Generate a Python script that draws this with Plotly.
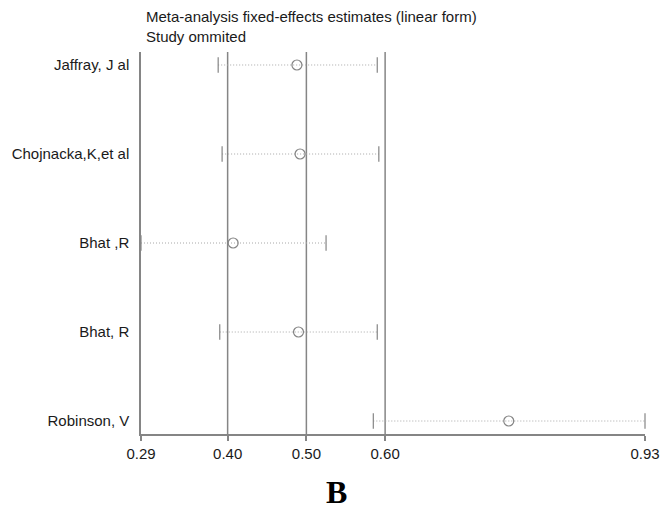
import plotly.graph_objects as go

studies = ["Jaffray, J al", "Chojnacka,K,et al", "Bhat ,R", "Bhat, R", "Robinson, V"]
estimate = [0.488, 0.492, 0.407, 0.490, 0.757]
lower = [0.388, 0.393, 0.290, 0.390, 0.585]
upper = [0.590, 0.592, 0.525, 0.590, 0.930]
x_ticks = [0.29, 0.40, 0.50, 0.60, 0.93]
x_tick_labels = ["0.29", "0.40", "0.50", "0.60", "0.93"]
ref_lines = [0.40, 0.50, 0.60]

ypos = list(range(len(studies)))
GRAY = "#858585"
FONT = "Liberation Sans, Arial, sans-serif"

W, H = 672, 517
ML, MR, MT, MB = 140, 21, 52, 83
pw, ph = W - ML - MR, H - MT - MB

fig = go.Figure()
for i in ypos:
    fig.add_trace(go.Scatter(
        x=[lower[i], upper[i]], y=[i, i], mode="lines",
        line=dict(color="#a8a8a8", width=1, dash="1px,2px"),
        hoverinfo="skip", showlegend=False))
fig.add_trace(go.Scatter(
    x=lower + upper, y=ypos + ypos, mode="markers",
    marker=dict(symbol="line-ns", size=11, line=dict(color=GRAY, width=1.2)),
    showlegend=False, cliponaxis=False))
fig.add_trace(go.Scatter(
    x=estimate, y=ypos, mode="markers",
    marker=dict(symbol="circle-open", size=10, color=GRAY, line=dict(width=1.2)),
    showlegend=False))

for v in ref_lines:
    fig.add_vline(x=v, line=dict(color=GRAY, width=1.5), layer="below")

fig.update_layout(
    width=W, height=H,
    margin=dict(l=ML, r=MR, t=MT, b=MB),
    plot_bgcolor="white", paper_bgcolor="white",
    font=dict(family=FONT, size=15, color="#1a1a1a"),
    xaxis=dict(range=[x_ticks[0], x_ticks[-1]], tickvals=x_ticks, ticktext=x_tick_labels,
               showgrid=False, zeroline=False, showline=True, linecolor=GRAY, linewidth=1.5,
               ticks="outside", ticklen=5, tickcolor=GRAY, tickwidth=1.5,
               tickfont=dict(size=15)),
    yaxis=dict(range=[len(studies) - 1 + 0.146, -0.146], tickvals=ypos, ticktext=studies,
               showgrid=False, zeroline=False, showline=True, linecolor=GRAY, linewidth=1.5,
               ticks="", ticklabelstandoff=7, tickfont=dict(size=15)),
)

fig.add_annotation(
    text="Meta-analysis fixed-effects estimates (linear form)<br>Study ommited",
    x=(143 - ML) / pw, y=(H - MB - 6) / ph, xref="paper", yref="paper", showarrow=False,
    xanchor="left", yanchor="top", align="left",
    font=dict(size=15, family=FONT, color="#1a1a1a"))
fig.add_annotation(
    text="<b>B</b>", x=(338 - ML) / pw, y=-(492 - (H - MB)) / ph,
    xref="paper", yref="paper", showarrow=False,
    xanchor="center", yanchor="middle",
    font=dict(size=32, family="Liberation Serif, Times New Roman, serif", color="black"))

fig.write_html("out.html")
